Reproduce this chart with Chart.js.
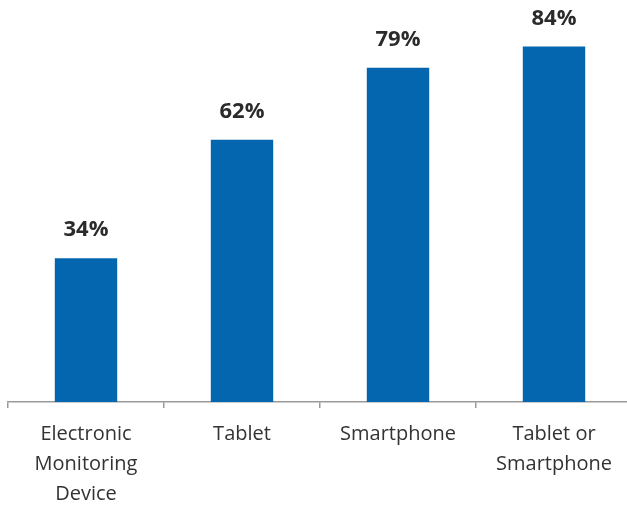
<!DOCTYPE html>
<html lang="en">
<head>
  <meta charset="UTF-8">
  <title>Device Use</title>
  <script src="https://cdn.jsdelivr.net/npm/chart.js"></script>
  <style>
    html, body {
      margin: 0;
      padding: 0;
      background: white;
      overflow: hidden;
    }

    .wrap {
      position: absolute;
      left: 0;
      top: 0;
      width: 640px;
      height: 520px;
    }
  </style>
</head>
<body>

  <div class="wrap">
    <canvas id="barChart"></canvas>
  </div>

  <script>
    const categories = [
      ['Electronic', 'Monitoring', 'Device'],
      'Tablet',
      'Smartphone',
      ['Tablet or', 'Smartphone']
    ];
    const percentValues = [34, 62, 79, 84];

    // Draw the % labels above each bar
    const valueLabels = {
      id: 'valueLabels',
      afterDatasetsDraw(chart) {
        const ctx = chart.ctx;
        const meta = chart.getDatasetMeta(0);
        ctx.save();
        ctx.font = 'bold 22px "Open Sans", sans-serif';
        ctx.fillStyle = '#2b2b2b';
        ctx.textAlign = 'center';
        ctx.textBaseline = 'middle';
        meta.data.forEach((bar, i) => {
          ctx.fillText(percentValues[i] + '%', bar.x, bar.y - 28);
        });
        ctx.restore();
      }
    };

    const ctx1 = document.getElementById('barChart').getContext('2d');
    new Chart(ctx1, {
      type: 'bar',
      data: {
        labels: categories,
        datasets: [{
          data: percentValues,
          backgroundColor: '#0566b0',
          barPercentage: 0.8,
          categoryPercentage: 0.5
        }]
      },
      options: {
        responsive: true,
        maintainAspectRatio: false,
        animation: false,
        layout: { padding: { left: 8, right: 8, top: 0, bottom: 0 } },
        plugins: {
          legend: { display: false },
          tooltip: { enabled: false }
        },
        scales: {
          y: {
            display: false,
            min: 0,
            max: 95
          },
          x: {
            offset: true,
            border: { color: '#9a9a9a', width: 1.5 },
            grid: {
              offset: true,
              drawOnChartArea: false,
              drawTicks: true,
              tickLength: 6,
              color: '#9a9a9a',
              lineWidth: 1.5
            },
            ticks: {
              color: '#333333',
              padding: 11,
              maxRotation: 0,
              autoSkip: false,
              font: { family: '"Open Sans", sans-serif', size: 20, lineHeight: 1.5 }
            }
          }
        }
      },
      plugins: [valueLabels]
    });
  </script>

</body>
</html>
